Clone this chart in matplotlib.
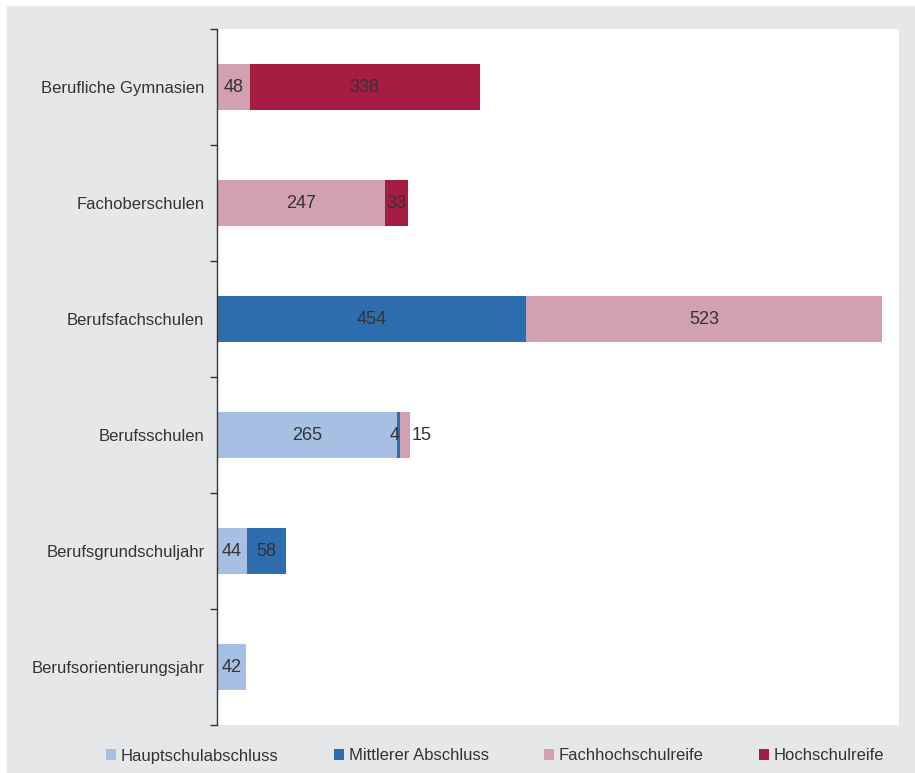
import matplotlib.pyplot as plt
import numpy as np
from matplotlib.patches import Patch, Rectangle

plt.rcParams['font.family'] = ['Liberation Sans', 'DejaVu Sans']
plt.rcParams['font.size'] = 12

# Data (top to bottom as shown)
categories = ['Berufliche Gymnasien', 'Fachoberschulen', 'Berufsfachschulen',
              'Berufsschulen', 'Berufsgrundschuljahr', 'Berufsorientierungsjahr']
series = ['Hauptschulabschluss', 'Mittlerer Abschluss', 'Fachhochschulreife', 'Hochschulreife']
values = {
    'Hauptschulabschluss': [0, 0, 0, 265, 44, 42],
    'Mittlerer Abschluss': [0, 0, 454, 4, 58, 0],
    'Fachhochschulreife': [48, 247, 523, 15, 0, 0],
    'Hochschulreife': [338, 33, 0, 0, 0, 0],
}
colors = ['#a7bfe3', '#2d6dae', '#d1a0b1', '#a61d44']

text_col = '#333333'
grey = '#e6e7e9'

fig = plt.figure(figsize=(9.15, 7.73), dpi=100)
W, H = 915, 773
fig.patches.append(Rectangle((7 / W, 0), 1 - 7 / W, 1 - 6 / H, transform=fig.transFigure,
                             facecolor=grey, edgecolor='none', zorder=-5))

ax = fig.add_axes([217 / W, 1 - 725 / H, (899 - 217) / W, (725 - 29) / H])
ax.set_facecolor('white')

n = len(categories)
y = np.arange(n)[::-1]
left = np.zeros(n)
for s, c in zip(series, colors):
    v = np.array(values[s], dtype=float)
    ax.barh(y, v, left=left, height=0.4, color=c, edgecolor='none')
    for yi, vi, li in zip(y, v, left):
        if vi <= 0:
            continue
        if vi < 10:
            ax.text(li + vi - 1, yi, f'{vi:.0f}', ha='right', va='center', color=text_col, fontsize=13)
        elif vi < 20:
            ax.text(li + vi + 2, yi, f'{vi:.0f}', ha='left', va='center', color=text_col, fontsize=13)
        else:
            ax.text(li + vi / 2, yi, f'{vi:.0f}', ha='center', va='center', color=text_col, fontsize=13)
    left += v

ax.set_xlim(0, 1002)
ax.set_ylim(-0.5, n - 0.5)
ax.set_xticks([])
ax.set_yticks(y)
ax.set_yticklabels(categories, color=text_col)
ax.tick_params(axis='y', which='major', length=0, pad=9)
ax.set_yticks(np.arange(-0.5, n, 1.0), minor=True)
ax.tick_params(axis='y', which='minor', length=5, width=1, color='#333333', direction='out')
for sp in ['top', 'right', 'bottom']:
    ax.spines[sp].set_visible(False)
ax.spines['left'].set_color('#333333')
ax.spines['left'].set_linewidth(1)

handles = [Patch(facecolor=c, edgecolor='none') for c in colors]
fig.legend(handles, series, loc='center', bbox_to_anchor=(495 / W, 1 - 756 / H), ncol=4,
           frameon=False, handlelength=0.6, handleheight=0.6, handletextpad=0.3,
           columnspacing=3.3, fontsize=12, labelcolor=text_col)

fig.savefig('out.png', dpi=100, facecolor='white')
